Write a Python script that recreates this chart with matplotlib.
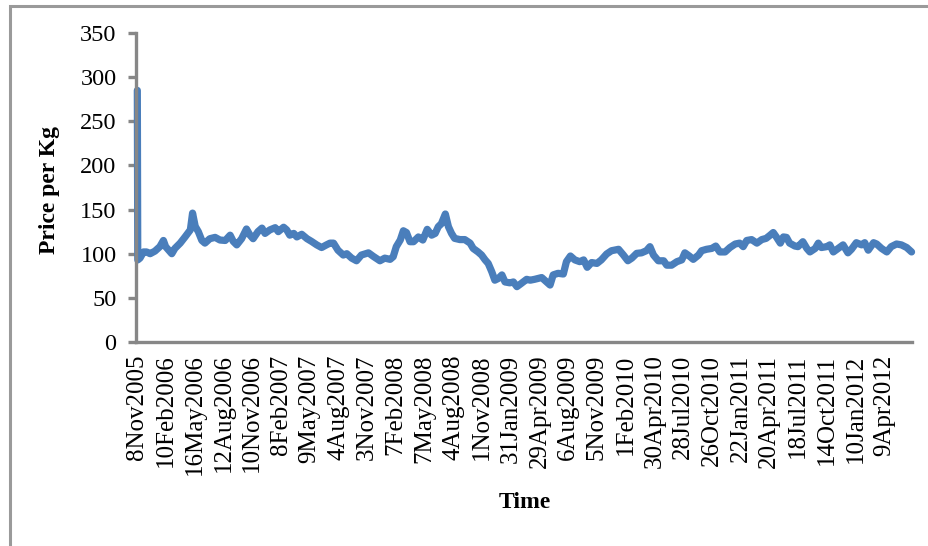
import matplotlib
matplotlib.use("Agg")
import matplotlib.pyplot as plt
from matplotlib.patches import Rectangle

# Observation number (trading-day index) and price per kg
obs = [0, 1, 6, 14, 21, 29, 40, 51, 59, 64, 71, 78, 85, 97, 108, 120, 125, 131, 138, 146,
       153, 164, 176, 187, 199, 210, 217, 225, 236, 247, 255, 262, 273, 282, 289, 300, 312,
       319, 331, 338, 345, 354, 361, 372, 384, 394, 406, 417, 428, 436, 444, 454, 466, 474,
       485, 496, 507, 523, 534, 549, 560, 572, 579, 586, 595, 602, 609, 617, 625, 636, 646,
       656, 666, 674, 681, 688, 697, 704, 711, 718, 730, 741, 753, 760, 771, 779, 787, 794,
       802, 809, 817, 825, 832, 843, 851, 859, 869, 881, 889, 899, 915, 926, 934, 941, 952,
       964, 971, 980, 990, 1001, 1010, 1018, 1028, 1040, 1050, 1062, 1073, 1089, 1100, 1110,
       1119, 1130, 1141, 1152, 1160, 1168, 1179, 1191, 1198, 1209, 1221, 1232, 1239, 1249,
       1258, 1270, 1277, 1288, 1300, 1309, 1318, 1330, 1341, 1353, 1363, 1371, 1379, 1390,
       1402, 1413, 1423, 1432, 1439, 1446, 1455, 1462, 1469, 1476, 1488, 1495, 1506, 1515,
       1522, 1534, 1541, 1548, 1560, 1567, 1575, 1586, 1597, 1608, 1616, 1627, 1639, 1646,
       1654, 1666, 1673, 1684, 1696, 1706, 1718, 1729, 1741, 1752]

price = [285, 93, 95, 102, 102, 100, 103, 108, 115, 108, 104, 100, 106, 112, 119, 127, 146,
         131, 125, 115, 112, 117, 118.5, 115.5, 115, 121, 114, 110, 117, 128, 121, 117, 125,
         129, 123, 127, 129.5, 125, 130, 127, 121, 123, 119, 122, 117, 114, 110, 107, 110,
         112, 112, 104, 98.5, 100, 95, 92, 98.5, 101, 97, 92, 95, 93.6, 96.6, 108, 115.5, 126,
         124, 113.6, 113.6, 119, 115.5, 127.6, 121, 123, 130.6, 134, 145, 130.6, 123, 117.4,
         116, 116, 112, 106, 102, 98.5, 93, 89, 79.7, 70, 72, 76, 68, 67, 68, 62.7, 66.4, 71,
         70, 71, 73, 68, 64.5, 76, 77.8, 77, 91, 97.4, 93, 91, 93, 84.6, 90, 89, 93, 99.7,
         103.4, 105, 98.5, 92, 95, 100.4, 101, 103.4, 108, 98.5, 92, 92, 87, 87, 91, 93, 101,
         97.4, 93.6, 98.5, 103.4, 105, 106, 108.7, 102, 102, 107, 111, 112, 108, 115, 116,
         112, 116, 117.4, 121, 124, 119, 112, 119, 118.5, 112, 108.7, 108, 113.6, 106, 102,
         106, 112, 107, 108, 110, 102, 106, 110, 101, 105, 112.5, 110, 112.5, 104, 112.5, 111,
         106, 102, 108, 111, 110, 107, 102]

# Category labels shown every 65 observations
tick_labels = ["8Nov2005", "10Feb2006", "16May2006", "12Aug2006", "10Nov2006", "8Feb2007",
               "9May2007", "4Aug2007", "3Nov2007", "7Feb2008", "7May2008", "4Aug2008",
               "1Nov2008", "31Jan2009", "29Apr2009", "6Aug2009", "5Nov2009", "1Feb2010",
               "30Apr2010", "28Jul2010", "26Oct2010", "22Jan2011", "20Apr2011", "18Jul2011",
               "14Oct2011", "10Jan2012", "9Apr2012"]
label_step = 65
y_ticks = [0, 50, 100, 150, 200, 250, 300, 350]

serif = ["Liberation Serif", "DejaVu Serif"]
plt.rcParams["font.family"] = serif

W, H = 929, 546
fig = plt.figure(figsize=(W / 100, H / 100), dpi=100)
fig.patch.set_facecolor("white")

# chart-area frame
frame = Rectangle((10.5 / W, -0.1), 1.2, 1.1 - 5.5 / H, transform=fig.transFigure,
                  fill=False, edgecolor="#9a9a9a", linewidth=2.2, clip_on=False)
fig.patches.append(frame)

ax = fig.add_axes([136 / W, 1 - 342 / H, (912 - 136) / W, (342 - 33) / H])
ax.plot(obs, price, color="#4A7EBB", linewidth=5.2, solid_joinstyle="round",
        solid_capstyle="round", clip_on=False, zorder=3)

ax.set_xlim(-3, 1753)
ax.set_ylim(0, 350)
ax.set_yticks(y_ticks)
ax.set_yticklabels([str(v) for v in y_ticks], fontsize=17.5)
ax.set_xticks([i * label_step for i in range(len(tick_labels))])
ax.set_xticklabels(tick_labels, rotation=90, fontsize=18, va="top", ha="center")

for side in ("top", "right"):
    ax.spines[side].set_visible(False)
for side in ("left", "bottom"):
    ax.spines[side].set_color("#878787")
    ax.spines[side].set_linewidth(2.4)
    ax.spines[side].set_zorder(4)
ax.tick_params(axis="y", direction="out", length=6, width=2.4, color="#878787", pad=8)
ax.tick_params(axis="x", length=0, pad=9)

fig.text(50 / W, 1 - 190 / H, "Price per Kg", rotation=90, ha="center", va="center",
         fontsize=17, fontweight="bold", family=serif)
fig.text(525 / W, 1 - 503 / H, "Time", ha="center", va="center",
         fontsize=17, fontweight="bold", family=serif)

fig.savefig("out.png", dpi=100, facecolor="white")
